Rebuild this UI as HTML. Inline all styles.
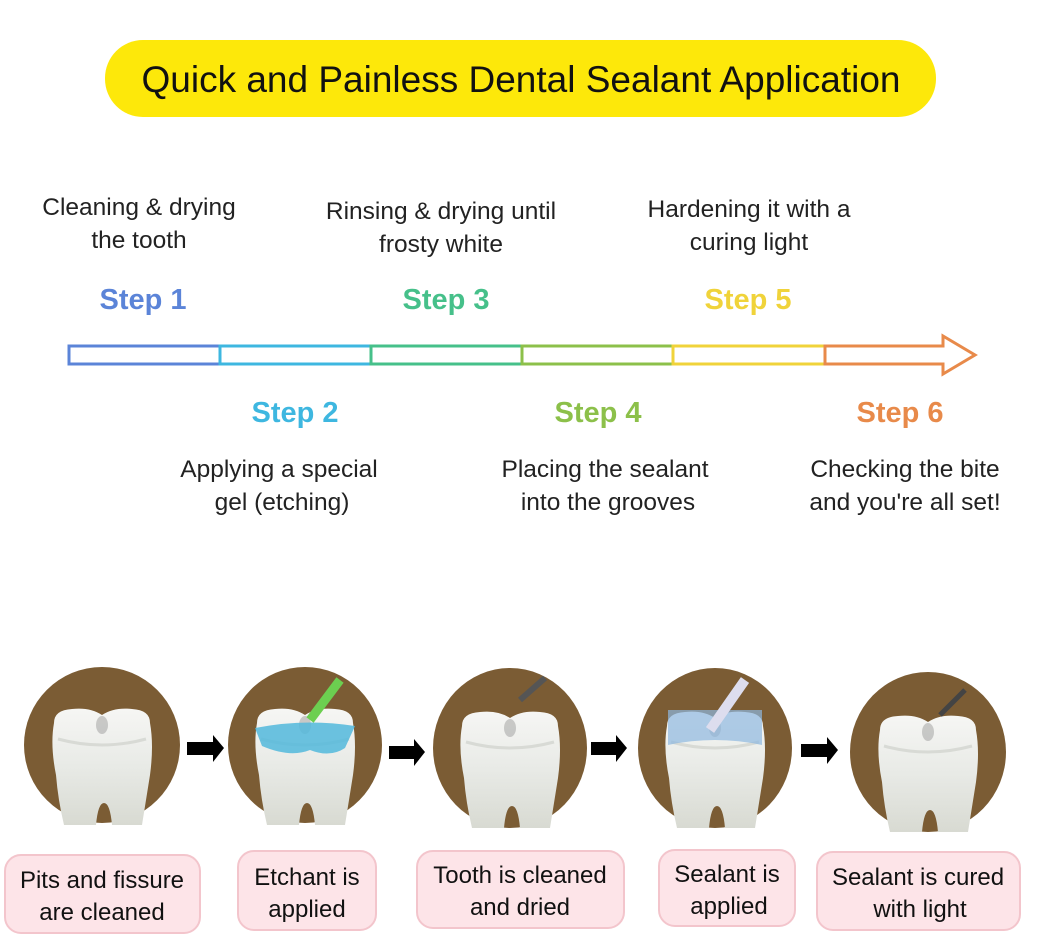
<!DOCTYPE html>
<html><head><meta charset="utf-8"><style>
html,body{margin:0;padding:0;background:#fff;}
svg{display:block;font-family:"Liberation Sans",sans-serif;}
</style></head><body>
<svg width="1052" height="936" viewBox="0 0 1052 936" xmlns="http://www.w3.org/2000/svg">
<defs>
<linearGradient id="tg" x1="0" y1="0" x2="0" y2="1">
<stop offset="0" stop-color="#f6f6f4"/><stop offset="0.5" stop-color="#e8eae6"/><stop offset="1" stop-color="#d8dad2"/>
</linearGradient>
<g id="tooth">
<path d="M-48,-22 Q-48,-35 -30,-36 Q-12,-38 0,-30 Q12,-38 30,-36 Q48,-35 48,-22 Q52,0 48,30 Q44,55 40,80 L10,80 Q8,58 2,58 Q-4,58 -6,80 L-38,80 Q-44,55 -46,30 Q-52,0 -48,-22 Z" fill="url(#tg)"/>
<path d="M-44,-6 Q0,6 44,-6" stroke="#cfd1cc" stroke-width="3" fill="none" opacity="0.7"/>
<ellipse cx="0" cy="-20" rx="6" ry="9" fill="#888" opacity="0.4"/>
</g>
</defs>
<rect width="1052" height="936" fill="#fff"/>
<rect x="105" y="40" width="831" height="77" rx="38" fill="#fde80a"/>
<text x="521" y="92" font-size="37" text-anchor="middle" fill="#111">Quick and Painless Dental Sealant Application</text>

<g font-size="24.5" fill="#222" text-anchor="middle">
<text x="139" y="215">Cleaning &amp; drying</text><text x="139" y="248">the tooth</text>
<text x="441" y="219">Rinsing &amp; drying until</text><text x="441" y="252">frosty white</text>
<text x="749" y="217">Hardening it with a</text><text x="749" y="250">curing light</text>
<text x="279" y="477">Applying a special</text><text x="282" y="510">gel (etching)</text>
<text x="605" y="477">Placing the sealant</text><text x="608" y="510">into the grooves</text>
<text x="905" y="477">Checking the bite</text><text x="905" y="510">and you're all set!</text>
</g>
<g font-size="29" font-weight="bold" text-anchor="middle">
<text x="143" y="309" fill="#5b84d8">Step 1</text>
<text x="446" y="309" fill="#46c08a">Step 3</text>
<text x="748" y="309" fill="#f0d33a">Step 5</text>
<text x="295" y="422" fill="#3eb7e0">Step 2</text>
<text x="598" y="422" fill="#8cc04a">Step 4</text>
<text x="900" y="422" fill="#e88a4a">Step 6</text>
</g>
<g fill="none" stroke-width="3">
<rect x="69" y="346" width="151" height="18" stroke="#5b84d8"/>
<rect x="220" y="346" width="151" height="18" stroke="#3eb7e0"/>
<rect x="371" y="346" width="151" height="18" stroke="#46c08a"/>
<rect x="522" y="346" width="151" height="18" stroke="#8cc04a"/>
<rect x="673" y="346" width="152" height="18" stroke="#f0d33a"/>
<path d="M825,346 L943,346 L943,336 L975,355 L943,374 L943,364 L825,364 Z" stroke="#e88a4a" stroke-linejoin="miter"/>
</g>

<g>
<ellipse cx="102" cy="745" rx="78" ry="78" fill="#7b5c34"/>
<ellipse cx="305" cy="745" rx="77" ry="78" fill="#7b5c34"/>
<ellipse cx="510" cy="748" rx="77" ry="80" fill="#7b5c34"/>
<ellipse cx="715" cy="748" rx="77" ry="80" fill="#7b5c34"/>
<ellipse cx="928" cy="752" rx="78" ry="80" fill="#7b5c34"/>
<use href="#tooth" x="102" y="745"/>
<use href="#tooth" x="305" y="745"/>
<use href="#tooth" x="510" y="748"/>
<use href="#tooth" x="715" y="748"/>
<use href="#tooth" x="928" y="752"/>
<path d="M255,728 Q305,718 355,726 L345,748 Q330,758 310,750 Q290,758 262,746 Z" fill="#52b8dc" opacity="0.85"/>
<path d="M310,720 L340,680" stroke="#6ccf50" stroke-width="9"/>
<path d="M668,710 L762,710 L762,745 Q715,735 668,745 Z" fill="#8fb8e0" opacity="0.7"/>
<path d="M710,730 L745,680" stroke="#dde" stroke-width="10"/>
<path d="M520,700 L545,678" stroke="#555" stroke-width="6"/>
<path d="M940,715 L965,690" stroke="#444" stroke-width="5"/>
</g>
<g fill="#000">
<path d="M187,742 L213,742 L213,735 L224,748 L213,762 L213,755 L187,755 Z"/>
<path d="M389,746 L414,746 L414,739 L425,752 L414,766 L414,759 L389,759 Z"/>
<path d="M591,742 L616,742 L616,735 L627,748 L616,762 L616,755 L591,755 Z"/>
<path d="M801,744 L827,744 L827,737 L838,750 L827,764 L827,757 L801,757 Z"/>
</g>

<g fill="#fde4e8" stroke="#f3c5cc" stroke-width="2">
<rect x="5" y="855" width="195" height="78" rx="16"/>
<rect x="238" y="851" width="138" height="79" rx="16"/>
<rect x="417" y="851" width="207" height="77" rx="16"/>
<rect x="659" y="850" width="136" height="76" rx="16"/>
<rect x="817" y="852" width="203" height="78" rx="16"/>
</g>
<g font-size="24" fill="#111" text-anchor="middle">
<text x="102" y="888">Pits and fissure</text><text x="102" y="920">are cleaned</text>
<text x="307" y="885">Etchant is</text><text x="307" y="917">applied</text>
<text x="520" y="883">Tooth is cleaned</text><text x="520" y="915">and dried</text>
<text x="727" y="882">Sealant is</text><text x="729" y="914">applied</text>
<text x="918" y="885">Sealant is cured</text><text x="920" y="917">with light</text>
</g>
</svg>
</body></html>
